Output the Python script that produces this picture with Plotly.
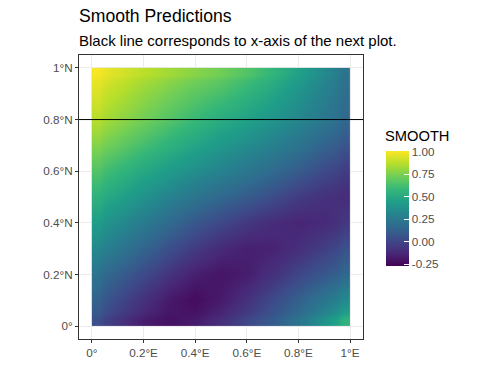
import plotly.graph_objects as go

# grid sample positions (degrees)
grid_x = [0.0, 0.1, 0.2, 0.3, 0.4, 0.5, 0.6, 0.7, 0.8, 0.9, 1.0]
grid_y = [0.0, 0.1, 0.2, 0.3, 0.4, 0.5, 0.6, 0.7, 0.8, 0.9, 1.0]

# smooth prediction values, rows from y=0 (bottom) to y=1 (top)
smooth = [
    [0.04, -0.07, -0.17, -0.21, -0.18, -0.10, 0.00, 0.10, 0.22, 0.38, 0.55],
    [0.13, 0.02, -0.09, -0.18, -0.23, -0.18, -0.09, 0.02, 0.12, 0.23, 0.34],
    [0.22, 0.12, 0.02, -0.08, -0.16, -0.20, -0.17, -0.09, 0.00, 0.08, 0.16],
    [0.33, 0.24, 0.14, 0.04, -0.05, -0.12, -0.16, -0.15, -0.10, -0.03, 0.05],
    [0.44, 0.35, 0.26, 0.17, 0.08, 0.01, -0.06, -0.11, -0.14, -0.12, -0.06],
    [0.55, 0.47, 0.38, 0.30, 0.23, 0.16, 0.10, 0.03, -0.04, -0.09, -0.11],
    [0.66, 0.58, 0.50, 0.43, 0.36, 0.30, 0.24, 0.17, 0.10, 0.02, -0.04],
    [0.77, 0.70, 0.62, 0.55, 0.48, 0.41, 0.35, 0.29, 0.22, 0.14, 0.07],
    [0.87, 0.80, 0.73, 0.66, 0.59, 0.52, 0.46, 0.39, 0.32, 0.24, 0.16],
    [0.94, 0.87, 0.80, 0.74, 0.68, 0.63, 0.56, 0.48, 0.39, 0.29, 0.19],
    [1.00, 0.94, 0.88, 0.83, 0.78, 0.73, 0.66, 0.57, 0.46, 0.34, 0.22],
]

line_lat = 0.8
tick_vals = [0, 0.2, 0.4, 0.6, 0.8, 1.0]
x_tick_labels = ["0°", "0.2°E", "0.4°E", "0.6°E", "0.8°E", "1°E"]
y_tick_labels = ["0°", "0.2°N", "0.4°N", "0.6°N", "0.8°N", "1°N"]
cbar_vals = [-0.25, 0.0, 0.25, 0.5, 0.75, 1.0]
cbar_text = ["-0.25", "0.00", "0.25", "0.50", "0.75", "1.00"]


def edges(c):
    e = [c[0]]
    for a, b in zip(c[:-1], c[1:]):
        e.append((a + b) / 2)
    e.append(c[-1])
    return e


FONT = "Liberation Sans, Arial, sans-serif"
OFF = 8  # page body margin
W, H = 480 - OFF, 384 - OFF
PL, PR, PT, PB = 79, 363, 55, 339  # panel edges in page pixels
PW, PH = PR - PL, PB - PT

fig = go.Figure()
fig.add_trace(go.Heatmap(
    x=edges(grid_x), y=edges(grid_y), z=smooth,
    zsmooth="best", colorscale="Viridis", zmin=-0.272, zmax=1.011,
    colorbar=dict(
        x=(386 - PL) / PW, xanchor="left", xpad=0,
        y=(PB - 266) / PH, yanchor="bottom", ypad=0,
        thickness=23, thicknessmode="pixels", len=115, lenmode="pixels",
        outlinewidth=0, tickvals=cbar_vals, ticktext=cbar_text,
        ticks="inside", ticklen=5, tickcolor="white", tickwidth=1,
        tickfont=dict(size=11.7, color="#4d4d4d", family=FONT),
    ),
    hoverinfo="skip",
))

fig.add_shape(type="line", xref="paper", x0=0, x1=1, yref="y", y0=line_lat, y1=line_lat,
              line=dict(color="black", width=1))

axis_common = dict(
    showgrid=True, gridcolor="#ebebeb", gridwidth=1, zeroline=False,
    showline=True, linecolor="#333333", linewidth=1, mirror=True,
    ticks="outside", ticklen=3, tickcolor="#333333", tickwidth=1,
    tickfont=dict(size=11.7, color="#4d4d4d", family=FONT),
    tickvals=tick_vals,
)
fig.update_xaxes(range=[-0.05, 1.05], ticktext=x_tick_labels, **axis_common)
fig.update_yaxes(range=[-0.05, 1.05], ticktext=y_tick_labels, **axis_common)

fig.add_annotation(text="Smooth Predictions", xref="paper", x=0, xanchor="left",
                   yref="paper", y=(PB - 16.5) / PH, yanchor="middle", showarrow=False,
                   font=dict(size=17.6, color="black", family=FONT), xshift=-2)
fig.add_annotation(text="Black line corresponds to x-axis of the next plot.", xref="paper", x=0,
                   xanchor="left", yref="paper", y=(PB - 40.6) / PH, yanchor="middle",
                   showarrow=False, font=dict(size=15, color="black", family=FONT), xshift=-2)
fig.add_annotation(text="SMOOTH", xref="paper", x=(385 - PL) / PW, xanchor="left",
                   yref="paper", y=(PB - 136) / PH, yanchor="middle", showarrow=False,
                   font=dict(size=14.7, color="black", family=FONT), xshift=-2)

fig.update_layout(
    width=W, height=H,
    margin=dict(l=PL - OFF, r=480 - PR, t=PT - OFF, b=384 - PB),
    paper_bgcolor="white", plot_bgcolor="white",
    font=dict(family=FONT),
    showlegend=False,
)

fig.write_html("out.html")
